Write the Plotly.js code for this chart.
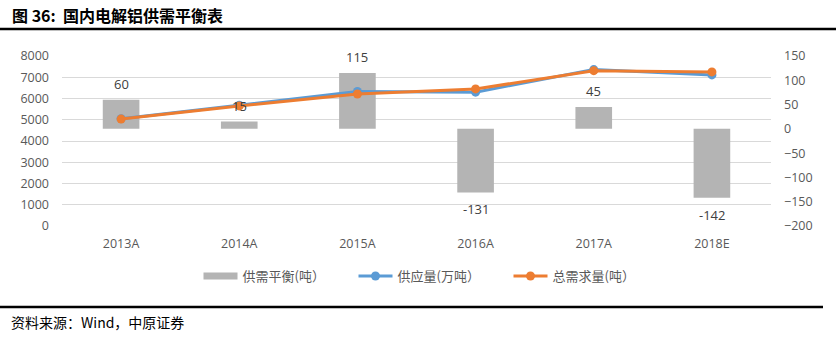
<!DOCTYPE html>
<html>
<head>
<meta charset="utf-8">
<script src="https://cdn.plot.ly/plotly-3.0.1.min.js"></script>
<style>html,body{margin:0;padding:0;background:#fff;}#chart{width:836px;height:341px;}</style>
</head>
<body>
<div id="chart"></div>
<script>
const categories = ["2013A", "2014A", "2015A", "2016A", "2017A", "2018E"];
const balance = [60, 15, 115, -131, 45, -142];
const supply = [5050, 5680, 6330, 6300, 7360, 7110];
const demand = [5030, 5650, 6210, 6450, 7310, 7250];
const balanceLabels = ["60", "15", "115", "-131", "45", "-142"];
const names = ["供需平衡(吨）", "供应量(万吨）", "总需求量(吨）"];

const grey = "#B4B4B4", blue = "#5B9BD5", orange = "#ED7D31";
const tickFont = {family: "Open Sans, sans-serif", size: 12.5, color: "#595959"};

const traces = [
  {type: "bar", x: categories, y: balance, yaxis: "y", marker: {color: grey}, width: 0.31, showlegend: false, hoverinfo: "skip"},
  {type: "scatter", mode: "lines", x: [null], y: [null], yaxis: "y", name: names[0], line: {color: grey, width: 7}, showlegend: true},
  {type: "scatter", mode: "lines+markers", x: categories, y: supply, yaxis: "y2", name: names[1], line: {color: blue, width: 3}, marker: {color: blue, size: 9}},
  {type: "scatter", mode: "lines+markers", x: categories, y: demand, yaxis: "y2", name: names[2], line: {color: orange, width: 3}, marker: {color: orange, size: 9}}
];

const annotations = categories.map((c, i) => ({
  x: c, y: balance[i], xref: "x", yref: "y", text: balanceLabels[i], showarrow: false,
  yanchor: "middle", yshift: balance[i] >= 0 ? 16 : -17,
  font: {family: "Open Sans, sans-serif", size: 13, color: "#404040"}
}));

const W = 709, H = 170, L = 62, T = 56;
const px = v => (v - L) / W;
const py = v => (T + H - v) / H;

annotations.push({
  xref: "paper", yref: "paper", x: px(10), y: py(15), xanchor: "left", yanchor: "middle", showarrow: false,
  text: "<b>图 36:  国内电解铝供需平衡表</b>", font: {family: "Noto Sans CJK SC", size: 16, color: "#000"}
});
annotations.push({
  xref: "paper", yref: "paper", x: px(9), y: py(322), xanchor: "left", yanchor: "middle", showarrow: false,
  text: "资料来源：Wind，中原证券", font: {family: "Noto Sans CJK SC", size: 14, color: "#000"}
});

const shapes = [
  {type: "line", xref: "paper", yref: "paper", x0: px(0), x1: px(836), y0: py(29), y1: py(29), line: {color: "#000", width: 2.5}},
  {type: "line", xref: "paper", yref: "paper", x0: px(0), x1: px(823), y0: py(307), y1: py(307), line: {color: "#000", width: 2.5}}
];

const layout = {
  width: 836, height: 341,
  margin: {l: L, r: 836 - L - W, t: T, b: 341 - T - H, pad: 0},
  paper_bgcolor: "#fff", plot_bgcolor: "rgba(0,0,0,0)",
  showlegend: true,
  bargap: 0.69,
  xaxis: {type: "category", tickfont: tickFont, showgrid: false, showline: false, zeroline: false, ticks: "", ticklabelstandoff: 8},
  yaxis: {side: "right", range: [-200, 150], dtick: 50, tickfont: tickFont, showgrid: false, zeroline: false, showline: false, ticks: "", ticklabelstandoff: 12},
  yaxis2: {side: "left", overlaying: "y", range: [0, 8000], dtick: 1000, tickfont: tickFont, showgrid: true, gridcolor: "#D9D9D9", gridwidth: 1, zeroline: false, showline: false, ticks: "", ticklabelstandoff: 12},
  legend: {orientation: "h", x: px(431), xanchor: "center", y: py(276), yanchor: "middle",
    font: {family: "Noto Sans CJK SC", size: 13, color: "#595959"}, entrywidth: 106, itemwidth: 34, bgcolor: "rgba(0,0,0,0)"},
  annotations: annotations,
  shapes: shapes
};

Plotly.newPlot("chart", traces, layout, {staticPlot: true, displayModeBar: false});
</script>
</body>
</html>
